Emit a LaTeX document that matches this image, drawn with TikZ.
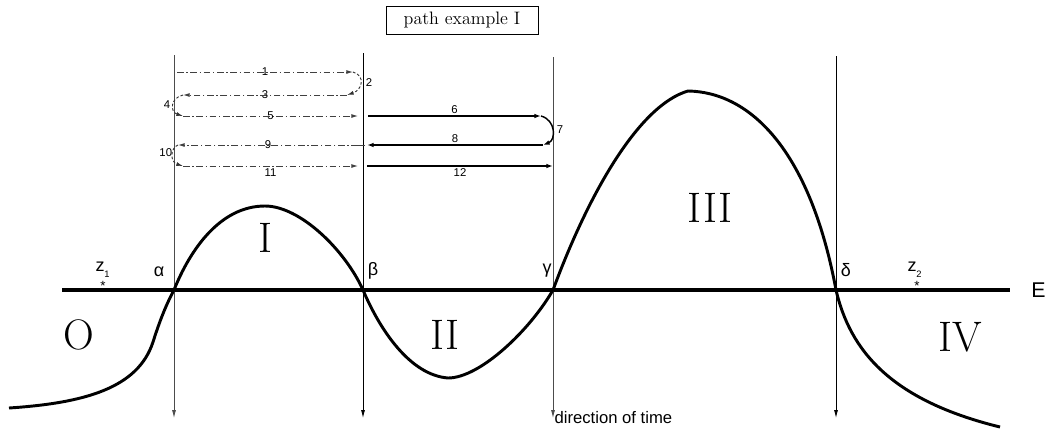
\documentclass[tikz,border=0pt]{standalone}
\usepackage{fontspec}
\usetikzlibrary{arrows.meta}
\newfontfamily\labelfont{Liberation Sans}

\tikzset{
  timeline/.style={draw=black!70,line width=0.6pt,-{Latex[length=6pt,width=3pt]}},
  dashdot/.style={draw=black!75,line width=0.7pt,dash pattern=on 5pt off 2pt on 1pt off 2pt,-{Latex[length=5pt,width=3pt]}},
  turn/.style={draw=black!80,line width=0.7pt,dash pattern=on 2pt off 1.5pt,-{Latex[length=5pt,width=3pt]}},
  solidpath/.style={draw=black,line width=1.3pt,-{Latex[length=5pt,width=3.5pt]}},
  num/.style={font=\labelfont\fontsize{8.5}{9}\selectfont,inner sep=0.5pt},
  sub/.style={font=\labelfont\fontsize{7}{7}\selectfont,inner sep=0pt},
  point/.style={font=\labelfont\fontsize{13.5}{14}\selectfont,inner sep=0pt},
  region/.style={font=\fontsize{32}{32}\selectfont,inner sep=0pt}
}

\begin{document}
\begin{tikzpicture}[x=0.75pt,y=-0.75pt]
    \useasboundingbox (0,0) rectangle (1046,430);

    % title
    \node[draw=black,line width=0.6pt,font=\fontsize{13.5}{14}\selectfont,
          minimum width=114pt,minimum height=21pt] (title) at (462,20) {path example I};

    % energy axis
    \coordinate (axisL) at (62,290);
    \coordinate (axisR) at (1010,290);
    \draw[line width=3.5pt] (axisL) -- (axisR);
    \node[point,font=\labelfont\fontsize{16}{16}\selectfont,anchor=west] (E) at (1031,290) {E};

    % turning points and time lines
    \coordinate (alphaTop) at (174,55);
    \coordinate (alphaEnd) at (174,418);
    \coordinate (betaTop) at (363,53);
    \coordinate (betaEnd) at (363,418);
    \coordinate (gammaTop) at (553,57);
    \coordinate (gammaEnd) at (553,418);
    \coordinate (deltaTop) at (836,56);
    \coordinate (deltaEnd) at (836,418);
    \draw[timeline] (alphaTop) -- (alphaEnd);
    \draw[timeline,draw=black] (betaTop) -- (betaEnd);
    \draw[timeline] (gammaTop) -- (gammaEnd);
    \draw[timeline,draw=black] (deltaTop) -- (deltaEnd);
    \node[point,font=\labelfont\fontsize{12.5}{13}\selectfont,anchor=west,inner sep=1pt] (time) at (gammaEnd) {direction of time};

    \node[point] (alpha) at (159,272) {α};
    \node[point] (beta) at (373,271) {β};
    \node[point] (gamma) at (547,271) {γ};
    \node[point] (delta) at (846,270) {δ};

    % classical points
    \node[point] (z1) at (100,267) {z};
    \node[sub] (z1i) at (107,274) {1};
    \node[sub,font=\labelfont\fontsize{10}{10}\selectfont] (z1s) at (103,286) {*};
    \node[point] (z2) at (912,267) {z};
    \node[sub] (z2i) at (919,274) {2};
    \node[sub,font=\labelfont\fontsize{10}{10}\selectfont] (z2s) at (917,286) {*};

    % potential
    \draw[line width=2.2pt,line join=round]
        (9,408) .. controls (85,403) and (138,388) .. (153,342)
        .. controls (160,320) and (166,305) .. (174,290)
        .. controls (190,250) and (220,206) .. (265,206)
        .. controls (300,206) and (345,250) .. (363,290)
        .. controls (380,330) and (410,375) .. (448,378)
        .. controls (480,378) and (530,330) .. (553,290)
        .. controls (590,190) and (640,105) .. (688,91)
        .. controls (750,92) and (810,150) .. (836,290)
        .. controls (850,350) and (890,400) .. (1000,427);

    \node[region] (O) at (79,335) {O};
    \node[region] (I) at (265,238) {I};
    \node[region] (II) at (445,335) {II};
    \node[region] (III) at (710,208) {III};
    \node[region] (IV) at (960,337) {IV};

    % path pieces
    \coordinate (a1) at (177,72);   \coordinate (b1) at (353,72);
    \coordinate (b3) at (347,95);   \coordinate (a3) at (183,95);
    \coordinate (a5) at (183,116);  \coordinate (b5) at (358,116);
    \coordinate (c6) at (368,116);  \coordinate (d6) at (541,116);
    \coordinate (d8) at (543,145);  \coordinate (c8) at (367,145);
    \coordinate (b9) at (358,145);  \coordinate (a9) at (178,145);
    \coordinate (a11) at (183,166); \coordinate (b11) at (358,166);
    \coordinate (c12) at (367,166); \coordinate (d12) at (553,166);

    \draw[dashdot] (a1) -- node[num] (n1) {1} (b1);
    \draw[turn] (b1) .. controls (366,76) and (362,90) .. (b3);
    \node[num,anchor=west] (n2) at (365,83) {2};
    \draw[dashdot] (b3) -- node[num] (n3) {3} (a3);
    \draw[turn] (a3) .. controls (170,98) and (170,112) .. (a5);
    \node[num,anchor=east] (n4) at (171,105) {4};
    \draw[dashdot] (a5) -- node[num] (n5) {5} (b5);
    \draw[solidpath] (c6) -- node[num,above=1pt] (n6) {6} (d6);
    \draw[solidpath,line width=1.1pt] (d6) .. controls (556,120) and (556,140) .. (d8);
    \node[num,anchor=west] (n7) at (556,130) {7};
    \draw[solidpath] (d8) -- node[num,above=1pt] (n8) {8} (c8);
    \draw[dashdot,-] (b9) -- (c8);
    \draw[dashdot] (b9) -- node[num] (n9) {9} (a9);
    \draw[turn] (a9) .. controls (170,148) and (170,162) .. (a11);
    \node[num,anchor=east] (n10) at (173,153) {10};
    \draw[dashdot] (a11) -- node[num,below=1pt] (n11) {11} (b11);
    \draw[solidpath] (c12) -- node[num,below=1pt] (n12) {12} (d12);
\end{tikzpicture}
\end{document}
